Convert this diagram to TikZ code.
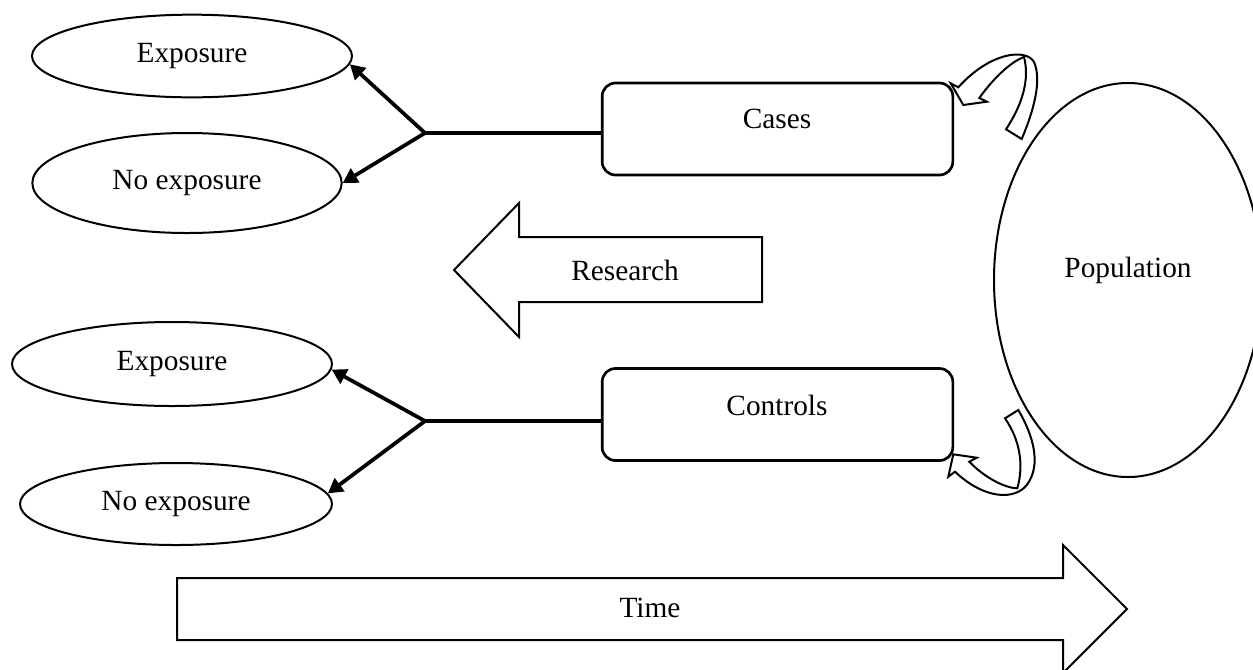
\documentclass[tikz,border=0pt]{standalone}
\usepackage{fontspec}
\setmainfont{Liberation Serif}
\usetikzlibrary{arrows.meta,shapes.geometric}
\begin{document}
\begin{tikzpicture}[x=0.75pt,y=-0.75pt,
  font=\fontsize{22}{26}\selectfont,
  oval/.style={draw, ellipse, line width=1.5pt, inner sep=0pt},
  box/.style={draw, rounded corners=10pt, line width=2pt, minimum width=263pt, minimum height=69pt},
  conn/.style={line width=2.8pt},
  arr/.style={conn, -{Triangle[length=11pt,width=12pt]}},
  block/.style={draw, line width=1.5pt, line join=miter, fill=white},
  txt/.style={inner sep=0pt}]
\useasboundingbox (0,0) rectangle (1253,669);

% ellipses
\node[oval, minimum width=240pt, minimum height=62pt] (e1) at (192,56) {Exposure};
\node[oval, minimum width=232pt, minimum height=75pt] (e2) at (187,183) {No exposure};
\node[oval, minimum width=240pt, minimum height=63pt] (e3) at (172,364) {Exposure};
\node[oval, minimum width=234pt, minimum height=61.5pt] (e4) at (176,504) {No exposure};
\node[oval, minimum width=201pt, minimum height=295.5pt] (pop) at (1128,280) {};
\node[txt] (poptext) at (1128,270) {Population};

% boxes
\node[box] (cases) at (777.5,129) {};
\node[txt] (casestext) at (777,119) {Cases};
\node[box] (controls) at (777.5,414.5) {};
\node[txt] (controlstext) at (777,405) {Controls};

% branches
\coordinate (b1) at (425,133);
\coordinate (b2) at (425,421);
\draw[conn] (b1) -- (b1 -| cases.west);
\draw[arr] (b1) -- (e1.-3);
\draw[arr] (b1) -- (e2.east);
\draw[conn] (b2) -- (b2 -| controls.west);
\draw[arr] (b2) -- (e3.-2);
\draw[arr] (b2) -- (e4.4);

% research arrow
\draw[block] (762,237) -- (519,237) -- (519,203) -- (454,270) -- (519,337) -- (519,302) -- (762,302) -- cycle;
\node[txt] (research) at (625,270) {Research};

% time arrow
\draw[block] (177,578) -- (1063,578) -- (1063,545) -- (1127,609) -- (1063,673) -- (1063,640) -- (177,640) -- cycle;
\node[txt] (time) at (650,608) {Time};

% upper curved arrow
\draw[block]
  (1021.7,139) .. controls (1034,110) and (1042,80) .. (1034,62)
  .. controls (1026,48) and (990,52) .. (958.3,87.3)
  -- (950.7,83.3) -- (963.3,105) -- (986.7,101.7) -- (979.3,98)
  .. controls (992,80) and (1010,62) .. (1024,57)
  .. controls (1030,80) and (1022,105) .. (1006,129.3) -- cycle;

% lower curved arrow
\draw[block]
  (1018.3,410) .. controls (1033,435) and (1042,465) .. (1026.7,485)
  .. controls (1015,500) and (985,500) .. (955,471.7)
  -- (948.3,476.7) -- (953.3,454.3) -- (976.7,457.7) -- (969.3,461.7)
  .. controls (985,478) and (1005,488) .. (1017.3,488.3)
  .. controls (1024,465) and (1020,440) .. (1005,418.3) -- cycle;
\end{tikzpicture}
\end{document}
